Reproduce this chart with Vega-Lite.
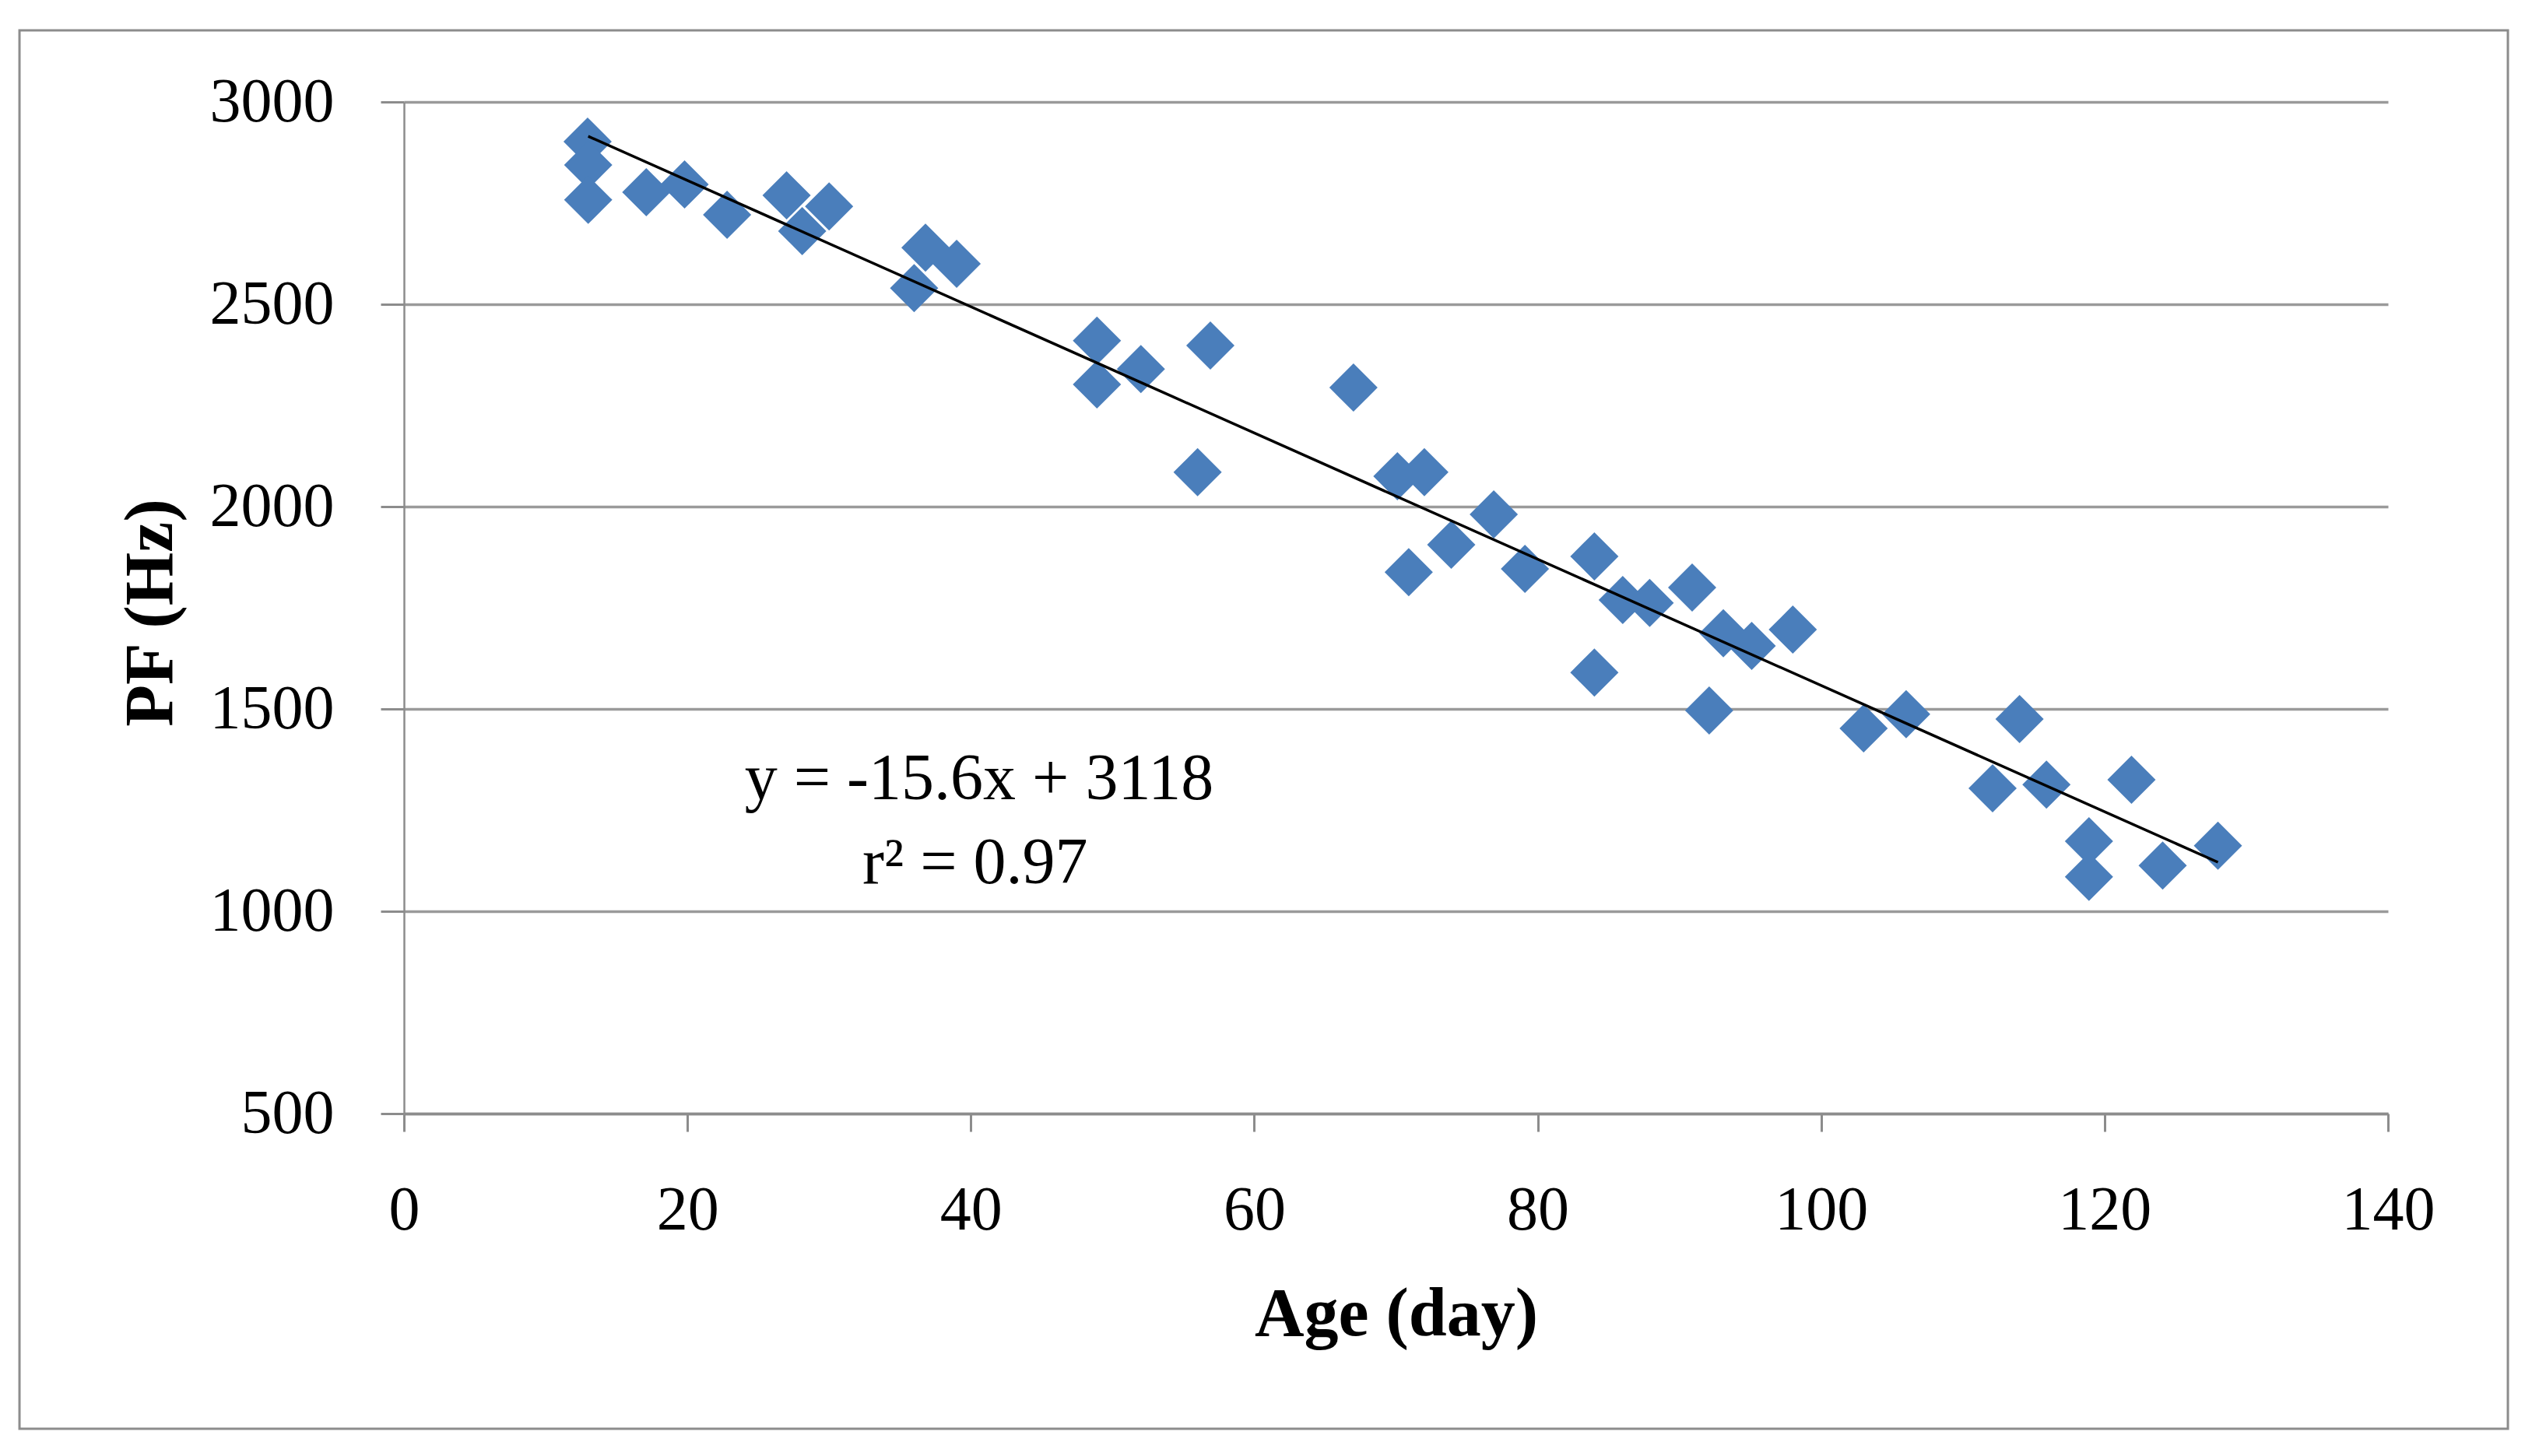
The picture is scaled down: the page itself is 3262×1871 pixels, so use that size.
{
  "$schema": "https://vega.github.io/schema/vega-lite/v6.json",
  "width": 2549,
  "height": 1300,
  "autosize": "none",
  "padding": {"left": 519, "top": 131, "right": 194, "bottom": 440},
  "background": "white",
  "config": {"view": {"stroke": null}, "font": "Liberation Serif"},
  "datasets": {
    "points": [
      {"age": 12.96, "pf": 2902}, {"age": 13.0, "pf": 2844}, {"age": 13.0, "pf": 2758},
      {"age": 17.1, "pf": 2777}, {"age": 19.8, "pf": 2796}, {"age": 22.8, "pf": 2721},
      {"age": 27.0, "pf": 2769}, {"age": 28.1, "pf": 2681}, {"age": 30.0, "pf": 2742},
      {"age": 36.8, "pf": 2640}, {"age": 39.0, "pf": 2600}, {"age": 36.0, "pf": 2540},
      {"age": 48.9, "pf": 2410}, {"age": 48.9, "pf": 2302}, {"age": 52.0, "pf": 2340},
      {"age": 56.9, "pf": 2398}, {"age": 56.0, "pf": 2085}, {"age": 67.0, "pf": 2294},
      {"age": 70.1, "pf": 2075}, {"age": 72.0, "pf": 2085}, {"age": 70.9, "pf": 1838},
      {"age": 73.9, "pf": 1906}, {"age": 76.9, "pf": 1981}, {"age": 79.1, "pf": 1846},
      {"age": 84.0, "pf": 1877}, {"age": 86.0, "pf": 1769}, {"age": 87.9, "pf": 1762},
      {"age": 90.9, "pf": 1800}, {"age": 93.1, "pf": 1687}, {"age": 95.1, "pf": 1656},
      {"age": 98.0, "pf": 1696}, {"age": 84.0, "pf": 1590}, {"age": 92.1, "pf": 1496},
      {"age": 103.0, "pf": 1452}, {"age": 106.0, "pf": 1487}, {"age": 114.0, "pf": 1475},
      {"age": 112.1, "pf": 1304}, {"age": 115.9, "pf": 1313}, {"age": 121.9, "pf": 1325},
      {"age": 118.9, "pf": 1173}, {"age": 118.9, "pf": 1085}, {"age": 124.1, "pf": 1113},
      {"age": 128.0, "pf": 1162}
    ],
    "trend": [
      {"age": 13, "pf": 2915.2},
      {"age": 128, "pf": 1121.2}
    ]
  },
  "layer": [
    {
      "data": {"values": [{}]},
      "mark": {"type": "rect", "fill": null, "stroke": "#8c8c8c", "strokeWidth": 3, "clip": false},
      "encoding": {
        "x": {"datum": -27.13, "type": "quantitative"},
        "x2": {"datum": 148.46},
        "y": {"datum": 3176.9, "type": "quantitative"},
        "y2": {"datum": -278.8}
      }
    },
    {
      "data": {"name": "points"},
      "mark": {"type": "point", "shape": "diamond", "filled": true, "size": 3844, "color": "#4a7ebb", "opacity": 1, "strokeWidth": 0},
      "encoding": {
        "x": {
          "field": "age", "type": "quantitative",
          "scale": {"domain": [0, 140], "nice": false, "zero": false},
          "axis": {
            "values": [0, 20, 40, 60, 80, 100, 120, 140],
            "format": "d",
            "title": "Age (day)",
            "grid": false,
            "tickSize": 23, "tickColor": "#8c8c8c", "tickWidth": 3,
            "domainColor": "#8c8c8c", "domainWidth": 3.5,
            "labelFontSize": 80, "labelPadding": 62, "labelColor": "black",
            "labelFont": "Liberation Serif", "labelLimit": 500,
            "labelFlush": false, "labelOverlap": false, "labelBound": false,
            "titleFont": "Liberation Serif",
            "titleFontSize": 88, "titleFontWeight": "bold", "titleColor": "black",
            "titleBaseline": "alphabetic", "titleY": 284
          }
        },
        "y": {
          "field": "pf", "type": "quantitative",
          "scale": {"domain": [500, 3000], "nice": false, "zero": false},
          "axis": {
            "values": [500, 1000, 1500, 2000, 2500, 3000],
            "format": "d",
            "title": "PF (Hz)",
            "grid": true, "gridColor": "#9a9a9a", "gridWidth": 3.5,
            "tickSize": 30, "tickColor": "#8c8c8c", "tickWidth": 3,
            "domainColor": "#8c8c8c", "domainWidth": 2.5,
            "labelFontSize": 80, "labelPadding": 60, "labelColor": "black",
            "labelFont": "Liberation Serif", "labelLimit": 500,
            "labelFlush": false, "labelOverlap": false, "labelBound": false,
            "titleFont": "Liberation Serif",
            "titleFontSize": 88, "titleFontWeight": "bold", "titleColor": "black",
            "titleAngle": 270, "titleBaseline": "alphabetic", "titleAlign": "center",
            "titleX": -299, "titleY": 656
          }
        }
      }
    },
    {
      "data": {"name": "trend"},
      "mark": {"type": "line", "color": "black", "strokeWidth": 3.5},
      "encoding": {
        "x": {"field": "age", "type": "quantitative"},
        "y": {"field": "pf", "type": "quantitative"}
      }
    },
    {
      "data": {"values": [{}]},
      "mark": {"type": "text", "font": "Liberation Serif", "fontSize": 84, "align": "center", "baseline": "alphabetic", "color": "black"},
      "encoding": {
        "x": {"datum": 40.59, "type": "quantitative"},
        "y": {"datum": 1277, "type": "quantitative"},
        "text": {"value": "y = -15.6x + 3118"}
      }
    },
    {
      "data": {"values": [{}]},
      "mark": {"type": "text", "font": "Liberation Serif", "fontSize": 84, "align": "center", "baseline": "alphabetic", "color": "black"},
      "encoding": {
        "x": {"datum": 40.3, "type": "quantitative"},
        "y": {"datum": 1069, "type": "quantitative"},
        "text": {"value": "r² = 0.97"}
      }
    }
  ]
}
